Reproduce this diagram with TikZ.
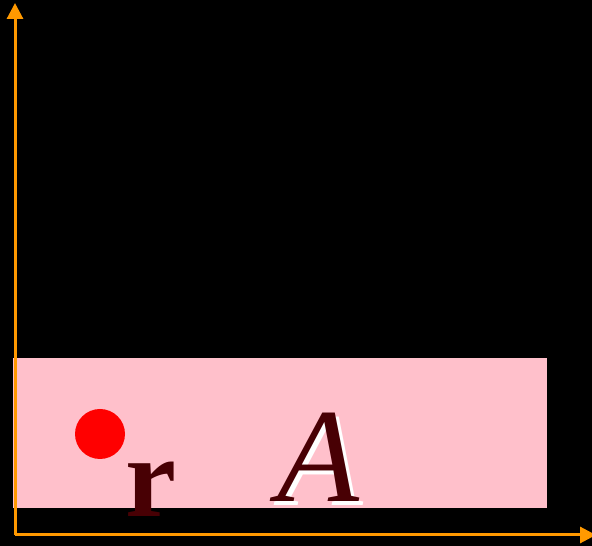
\documentclass[tikz,border=0pt]{standalone}
\usepackage{fontspec}
\setmainfont{Liberation Serif}
\usetikzlibrary{arrows.meta}
\definecolor{axisorange}{RGB}{255,153,0}
\definecolor{webpink}{RGB}{255,192,203}
\definecolor{darkmaroon}{RGB}{72,0,4}
\tikzset{
  axis/.style={draw=axisorange, line width=3pt, -{Triangle[length=16pt,width=16pt]}},
  letter/.style={inner sep=0pt, anchor=base west},
}
\begin{document}
\begin{tikzpicture}[x=1pt,y=1pt]
\useasboundingbox[fill=black] (0,0) rectangle (592,546);
\fill[webpink] (13,38) rectangle (547,188);
\fill[red] (100,112) circle (25);
\node[letter, text=darkmaroon, font=\fontsize{115}{115}\selectfont\bfseries] (r) at (125,29) {r};
\node[letter, text=white, font=\fontsize{134}{134}\selectfont\itshape] (Ashadow) at (281.5,40) {A};
\node[letter, text=darkmaroon, font=\fontsize{134}{134}\selectfont\itshape] (A) at (277.5,44) {A};
\coordinate (O) at (15,11);
\coordinate (Ytop) at (15,543);
\coordinate (Xend) at (596,11);
\draw[axis] (O) -- (Ytop);
\draw[axis] (O) -- (Xend);
\end{tikzpicture}
\end{document}
